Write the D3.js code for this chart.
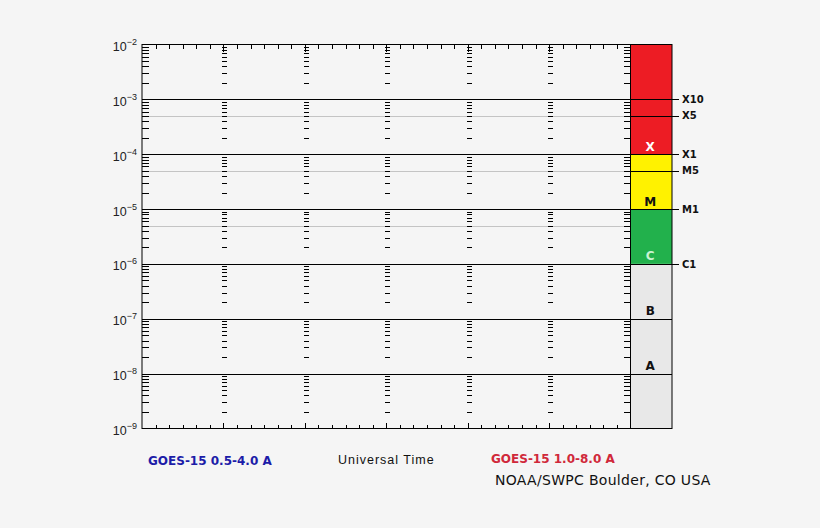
<!DOCTYPE html>
<html>
<head>
<meta charset="utf-8">
<script src="https://cdn.jsdelivr.net/npm/d3@7"></script>
<style>
    body { margin: 0; background: #f5f5f5; }
    svg { display: block; }
    .lbl { font-family: "Liberation Sans", Arial, sans-serif; }
    .bold { font-family: "DejaVu Sans", Verdana, sans-serif; font-weight: bold; }
    .plain { font-family: "DejaVu Sans", Verdana, sans-serif; font-weight: normal; }
</style>
</head>
<body>
<div id="chart"></div>
<script>
    // decades shown on the flux axis (W/m^2)
    const decadeExps = [-9, -8, -7, -6, -5, -4, -3, -2];
    // half-decade reference lines drawn in grey
    const halfLines = [5e-4, 5e-5, 5e-6];
    // flare class bands and their letters
    const bandNames = ["X", "M", "C", "B", "A"];
    const bandLo = [1e-4, 1e-5, 1e-6, 1e-7, 1e-8];
    const bandHi = [1e-2, 1e-4, 1e-5, 1e-6, 1e-7];
    const bandFill = ["#ed1c24", "#fff200", "#22b14c", "#e8e8e8", "#e8e8e8"];
    const bandText = ["#ffffff", "#111111", "#c9f2d2", "#111111", "#111111"];
    // labels on the right of the class bar
    const classLabels = ["X10", "X5", "X1", "M5", "M1", "C1"];
    const classValues = [1e-3, 5e-4, 1e-4, 5e-5, 1e-5, 1e-6];
    // time axis: 6 days, minor tick every 4 hours
    const timeMajor = [0, 24, 48, 72, 96, 120, 144];
    const timeMinor = d3.range(0, 145, 4);
    // footer texts
    const footer = {
        left: "GOES-15 0.5-4.0 A",
        mid: "Universal Time",
        right: "GOES-15 1.0-8.0 A",
        credit: "NOAA/SWPC Boulder, CO USA"
    };

    let W = 820, H = 528;
    let pLeft = 142, pRight = 630.5, pTop = 44.5, pBottom = 428.5;
    let barW = 41.5;

    let svg = d3.select("#chart")
        .append("svg")
        .attr("width", W)
        .attr("height", H);

    svg.append("rect")
        .attr("width", W).attr("height", H)
        .attr("fill", "#f5f5f5");

    let x = d3.scaleLinear().domain([0, 144]).range([pLeft, pRight]);
    let y = d3.scaleLog().domain([1e-9, 1e-2]).range([pBottom, pTop]);

    // minor log ticks 2..9 in every decade
    let minorY = [];
    decadeExps.slice(0, -1).forEach(e => {
        for (let k = 2; k <= 9; k++) minorY.push(k * Math.pow(10, e));
    });

    // class bar
    svg.selectAll("rect.band")
        .data(bandNames)
        .join("rect")
        .attr("class", "band")
        .attr("x", pRight)
        .attr("width", barW)
        .attr("y", (d, i) => y(bandHi[i]))
        .attr("height", (d, i) => y(bandLo[i] / (i === 4 ? 10 : 1)) - y(bandHi[i]))
        .attr("fill", (d, i) => bandFill[i]);

    // grey half-decade lines
    svg.selectAll("line.half")
        .data(halfLines)
        .join("line")
        .attr("class", "half")
        .attr("x1", pLeft).attr("x2", pRight)
        .attr("y1", d => Math.round(y(d)) + 0.5)
        .attr("y2", d => Math.round(y(d)) + 0.5)
        .attr("stroke", "#c4c4c4");

    // black decade lines
    svg.selectAll("line.decade")
        .data(decadeExps.slice(1, -1))
        .join("line")
        .attr("class", "decade")
        .attr("x1", pLeft).attr("x2", pRight + barW)
        .attr("y1", d => Math.round(y(Math.pow(10, d))) + 0.5)
        .attr("y2", d => Math.round(y(Math.pow(10, d))) + 0.5)
        .attr("stroke", "#000");

    // class marker lines through the bar up to the labels
    svg.selectAll("line.cls")
        .data(classValues)
        .join("line")
        .attr("class", "cls")
        .attr("x1", pRight).attr("x2", pRight + barW + 7)
        .attr("y1", d => Math.round(y(d)) + 0.5)
        .attr("y2", d => Math.round(y(d)) + 0.5)
        .attr("stroke", "#000");

    svg.selectAll("text.cls")
        .data(classLabels)
        .join("text")
        .attr("class", "cls bold")
        .attr("x", pRight + barW + 10)
        .attr("y", (d, i) => y(classValues[i]))
        .attr("dy", "0.36em")
        .attr("font-size", 10)
        .attr("fill", "#111")
        .text(d => d);

    // band letters
    svg.selectAll("text.band")
        .data(bandNames)
        .join("text")
        .attr("class", "band bold")
        .attr("x", pRight + barW / 2 - 1)
        .attr("y", (d, i) => y(bandLo[i]) - 3.5)
        .attr("text-anchor", "middle")
        .attr("font-size", 12)
        .attr("fill", (d, i) => bandText[i])
        .text(d => d);

    // minor flux ticks: left axis, each day boundary, right edge
    let tickAxis = (axis, tx, size) => {
        let g = svg.append("g")
            .attr("transform", "translate(" + tx + ",0)")
            .call(axis.scale(y).tickValues(minorY).tickSize(size).tickFormat(""));
        g.select(".domain").remove();
        g.selectAll("line").attr("stroke", "#000").attr("shape-rendering", "crispEdges");
    };
    tickAxis(d3.axisRight(), pLeft, 7);
    timeMajor.slice(1, -1).forEach(t => tickAxis(d3.axisRight(), Math.round(x(t)) - 1, 5));
    tickAxis(d3.axisLeft(), pRight, 7);

    // time ticks top and bottom
    let timeAxis = (axis, ty, vals, size) => {
        let g = svg.append("g")
            .attr("transform", "translate(0," + ty + ")")
            .call(axis.scale(x).tickValues(vals).tickSize(size).tickFormat(""));
        g.select(".domain").remove();
        g.selectAll("line").attr("stroke", "#000").attr("shape-rendering", "crispEdges");
    };
    let minorOnly = timeMinor.filter(t => t % 24 !== 0);
    timeAxis(d3.axisBottom(), pTop, minorOnly, 4);
    timeAxis(d3.axisBottom(), pTop, timeMajor.slice(1, -1), 7);
    timeAxis(d3.axisTop(), pBottom, minorOnly, 4);
    timeAxis(d3.axisTop(), pBottom, timeMajor.slice(1, -1), 6);

    // frames
    svg.append("rect")
        .attr("x", pLeft).attr("y", pTop)
        .attr("width", pRight - pLeft).attr("height", pBottom - pTop)
        .attr("fill", "none").attr("stroke", "#000");
    svg.append("rect")
        .attr("x", pRight).attr("y", pTop)
        .attr("width", barW).attr("height", pBottom - pTop)
        .attr("fill", "none").attr("stroke", "#000");

    // flux tick labels 10^n
    let lab = svg.selectAll("text.ylab")
        .data(decadeExps)
        .join("text")
        .attr("class", "ylab lbl")
        .attr("x", 137)
        .attr("y", d => y(Math.pow(10, d)) + 6.5)
        .attr("text-anchor", "end")
        .attr("font-size", 12.5)
        .attr("fill", "#222");
    lab.append("tspan").text("10");
    lab.append("tspan")
        .attr("font-size", 9)
        .attr("dy", -6)
        .text(d => "\u2212" + (-d));

    // footer
    svg.append("text")
        .attr("class", "bold")
        .attr("x", 148).attr("y", 465)
        .attr("font-size", 12)
        .attr("fill", "#1c1ca8")
        .text(footer.left);
    svg.append("text")
        .attr("class", "lbl")
        .attr("x", 338).attr("y", 463.5)
        .attr("font-size", 12.5)
        .attr("letter-spacing", 1)
        .attr("fill", "#111")
        .text(footer.mid);
    svg.append("text")
        .attr("class", "bold")
        .attr("x", 491).attr("y", 462.5)
        .attr("font-size", 12)
        .attr("fill", "#d0283a")
        .text(footer.right);
    svg.append("text")
        .attr("class", "plain")
        .attr("x", 495).attr("y", 484.5)
        .attr("font-size", 14)
        .attr("letter-spacing", 0.3)
        .attr("fill", "#111")
        .text(footer.credit);
</script>
</body>
</html>
